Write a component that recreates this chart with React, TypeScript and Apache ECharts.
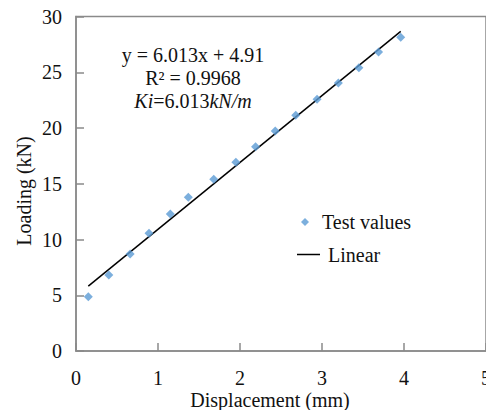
import React, { useEffect, useRef } from "react";
import * as echarts from "echarts";

const displacement = [0.15, 0.4, 0.66, 0.89, 1.15, 1.37, 1.68, 1.95, 2.19, 2.43, 2.68, 2.94, 3.2, 3.45, 3.69, 3.96];
const loading = [4.87, 6.82, 8.7, 10.56, 12.29, 13.78, 15.4, 16.92, 18.32, 19.73, 21.14, 22.57, 24.04, 25.41, 26.82, 28.13];
const linearX = [0.15, 3.96];
const linearY = [5.82, 28.66];
const annotationLines = ["y = 6.013x + 4.91", "R\u00B2 = 0.9968", "{i|Ki}=6.013{i|kN/m}"];
const xTitle = "Displacement (mm)";
const yTitle = "Loading (kN)";

const FONT = "'Liberation Serif', 'Times New Roman', serif";

export default function App() {
  const ref = useRef<HTMLDivElement>(null);
  useEffect(() => {
    if (!ref.current) return;
    const chart = echarts.init(ref.current, null, { renderer: "svg" });
    const axisColor = "#8a8a8a";
    const textColor = "#111";
    const legendText = { fontFamily: FONT, fontSize: 20, color: textColor };
    const titleStyle = {
      fontFamily: FONT,
      fontSize: 20,
      lineHeight: 20,
      fill: textColor,
      textAlign: "center",
      textVerticalAlign: "middle",
    };
    chart.setOption({
      animation: false,
      backgroundColor: "#fff",
      textStyle: { fontFamily: FONT },
      grid: {
        left: 76,
        top: 16.5,
        width: 410,
        bottom: 59,
        show: true,
        borderColor: axisColor,
        borderWidth: 1.5,
        containLabel: false,
        outerBoundsMode: "none",
      },
      legend: [
        {
          orient: "vertical",
          left: 301,
          top: 212,
          padding: 0,
          itemWidth: 8,
          itemHeight: 8,
          textStyle: { ...legendText, padding: [0, 0, 0, 8] },
          data: [{ name: "Test values", icon: "diamond" }],
        },
        {
          orient: "vertical",
          left: 297,
          top: 244.5,
          padding: 0,
          itemWidth: 23,
          itemHeight: 1.5,
          textStyle: { ...legendText, padding: [0, 0, 0, 3] },
          data: [{ name: "Linear", icon: "rect", itemStyle: { color: "#000" } }],
        },
      ],
      xAxis: {
        type: "value",
        min: 0,
        max: 5,
        interval: 1,
        axisLine: { show: true, lineStyle: { color: axisColor, width: 1.5 } },
        axisTick: { show: true, inside: true, length: 8, lineStyle: { color: axisColor, width: 1.5 } },
        axisLabel: { fontFamily: FONT, fontSize: 20, lineHeight: 20, color: textColor, margin: 17 },
        splitLine: { show: false },
      },
      yAxis: {
        type: "value",
        min: 0,
        max: 30,
        interval: 5,
        axisLine: { show: true, lineStyle: { color: axisColor, width: 1.5 } },
        axisTick: { show: true, inside: true, length: 8, lineStyle: { color: axisColor, width: 1.5 } },
        axisLabel: { fontFamily: FONT, fontSize: 20, color: textColor, margin: 14 },
        splitLine: { show: false },
      },
      series: [
        {
          name: "Test values",
          type: "scatter",
          symbol: "diamond",
          symbolSize: 9,
          itemStyle: { color: "#5b9bd5" },
          data: displacement.map((x, i) => [x, loading[i]]),
          z: 3,
        },
        {
          name: "Linear",
          type: "line",
          symbol: "none",
          showSymbol: false,
          lineStyle: { color: "#000", width: 1.5 },
          itemStyle: { color: "#000" },
          data: linearX.map((x, i) => [x, linearY[i]]),
          z: 2,
        },
      ],
      graphic: [
        ...annotationLines.map((t, i) => ({
          type: "text",
          x: 193,
          y: 55 + i * 23,
          style: {
            ...titleStyle,
            text: t,
            rich: {
              i: { fontFamily: FONT, fontSize: 20, fontStyle: "italic", fill: textColor },
            },
          },
        })),
        {
          type: "text",
          x: 270,
          y: 399.5,
          style: { ...titleStyle, text: xTitle },
        },
        {
          type: "text",
          x: 24,
          y: 191,
          rotation: Math.PI / 2,
          style: { ...titleStyle, text: yTitle },
        },
      ],
    });
    return () => chart.dispose();
  }, []);
  return (
    <div
      ref={ref}
      style={{ position: "absolute", left: 0, top: 0, width: 486, height: 410 }}
    />
  );
}
